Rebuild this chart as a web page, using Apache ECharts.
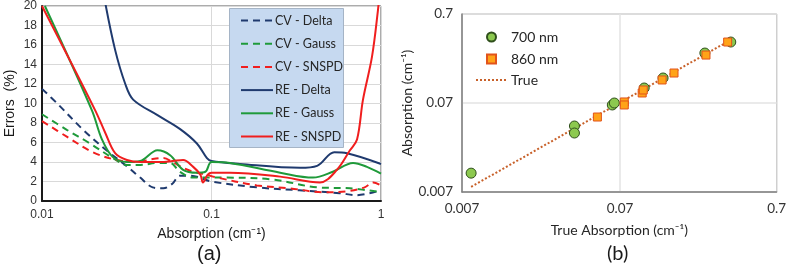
<!DOCTYPE html>
<html>
<head>
<meta charset="utf-8">
<script src="https://cdn.jsdelivr.net/npm/echarts@6/dist/echarts.min.js"></script>
<style>
  html, body { margin: 0; padding: 0; background: #fff; }
  #chart { width: 789px; height: 272px; }
</style>
</head>
<body>
<div id="chart"></div>
<script>
  // (a) error curves, [absorption, error %]
  var cvDelta = [[0.01, 11.5], [0.0123, 10], [0.0175, 7.3], [0.024, 5.2], [0.032, 3.5], [0.038, 2.4],
    [0.045, 1.4], [0.052, 1.3], [0.059, 1.8], [0.065, 2.6], [0.075, 2.6], [0.1, 2.0], [0.185, 1.4],
    [0.33, 1.1], [0.57, 0.8], [0.72, 0.6], [1, 1.1]];
  var cvGauss = [[0.01, 8.9], [0.014, 7.3], [0.0192, 5.9], [0.0262, 4.4], [0.0317, 3.7], [0.038, 3.7],
    [0.048, 3.9], [0.057, 3.9], [0.065, 3.0], [0.078, 2.4], [0.094, 2.4], [0.117, 2.4], [0.231, 2.2],
    [0.42, 1.4], [0.656, 1.3], [1, 0.9]];
  var cvSnspd = [[0.01, 8.2], [0.014, 6.6], [0.02, 5.0], [0.0277, 4.2], [0.036, 4.0], [0.045, 4.3],
    [0.052, 4.4], [0.059, 4.0], [0.068, 3.4], [0.078, 3.0], [0.094, 2.7], [0.102, 2.5], [0.185, 1.6],
    [0.29, 1.3], [0.455, 0.9], [0.63, 1.0], [0.8, 1.4], [0.9, 1.9], [1, 1.6]];
  var reDelta = [[0.0235, 20.5], [0.027, 15.5], [0.031, 12], [0.0345, 10.4], [0.048, 8.8], [0.065, 7.4],
    [0.082, 5.9], [0.094, 4.4], [0.1, 4.1], [0.147, 3.8], [0.333, 3.4], [0.42, 3.6], [0.53, 5.0],
    [0.63, 4.9], [1, 3.8]];
  var reGauss = [[0.0104, 20], [0.0197, 9.3], [0.0226, 6.3], [0.0262, 4.5], [0.0317, 4.0],
    [0.038, 4.1], [0.048, 5.2], [0.057, 4.7], [0.068, 3.2], [0.082, 2.9], [0.092, 3.0], [0.1, 4.0],
    [0.1285, 3.9], [0.254, 2.9], [0.397, 2.4], [0.52, 3.0], [0.684, 3.9], [0.826, 3.5], [1, 2.8]];
  var reSnspd = [[0.01, 20], [0.0206, 9.3], [0.0236, 7.0], [0.027, 4.9], [0.0317, 4.2],
    [0.038, 4.0], [0.05, 4.0], [0.059, 4.1], [0.068, 4.2], [0.078, 3.5], [0.086, 2.7], [0.089, 1.9],
    [0.095, 2.7], [0.1, 2.9], [0.1285, 2.9], [0.254, 2.5], [0.436, 1.9], [0.55, 3.2], [0.656, 5.2],
    [0.722, 6.3], [0.783, 10.4], [0.885, 14.8], [0.96, 19.6], [0.975, 21]];

  // (b) retrieved vs true absorption, [true, retrieved]
  var nm700 = [[0.008, 0.0114], [0.0363, 0.0386], [0.0363, 0.0322], [0.0632, 0.0665], [0.0651, 0.07],
    [0.1008, 0.1032], [0.1329, 0.1337], [0.245, 0.255], [0.358, 0.339]];
  var nm860 = [[0.0508, 0.0487], [0.0753, 0.0719], [0.0753, 0.0665], [0.0979, 0.0907], [0.0994, 0.098],
    [0.131, 0.127], [0.156, 0.152], [0.249, 0.242], [0.342, 0.339]];
  var trueLine = [[0.008, 0.008], [0.363, 0.363]];

  var navy = '#1f3a6e', green = '#1f9a3a', red = '#f01e1e';
  var dash = [7, 5];

  function curve(name, data, color, dashed) {
    return {
      name: name, type: 'line', xAxisIndex: 0, yAxisIndex: 0,
      data: data, smooth: 0.35, showSymbol: false, symbol: 'none',
      lineStyle: { color: color, width: 2, type: dashed ? dash : 'solid' },
      itemStyle: { color: color }
    };
  }

  function logLabel(v) {
    return String(+(+v).toPrecision(1));
  }

  var chart = echarts.init(document.getElementById('chart'));
  var option = {
    animation: false,
    backgroundColor: '#fff',
    grid: [
      { left: 42, top: 6, width: 339, height: 195, show: true, borderColor: '#595959', borderWidth: 1 },
      { left: 462, top: 14, width: 316, height: 178, show: true, borderColor: '#8c8c8c', borderWidth: 1 }
    ],
    legend: [
      {
        data: ['CV - Delta', 'CV - Gauss', 'CV - SNSPD', 'RE - Delta', 'RE - Gauss', 'RE - SNSPD'],
        orient: 'vertical', left: 240, top: 14, padding: 0, itemGap: 10.2, itemWidth: 32, itemHeight: 14,
        itemStyle: { opacity: 0 },
        textStyle: { fontFamily: 'Lato', fontSize: 12.5, color: '#262626', padding: [0, 0, 0, -3] }
      },
      {
        data: ['700 nm', '860 nm'],
        orient: 'vertical', left: 486, top: 30, padding: 0, itemGap: 8, itemWidth: 9, itemHeight: 9,
        textStyle: { fontFamily: 'Lato', fontSize: 14, color: '#262626', padding: [0, 0, 0, 10] }
      },
      {
        data: ['True'],
        orient: 'vertical', left: 475, top: 73, padding: 0, itemWidth: 32, itemHeight: 14,
        itemStyle: { opacity: 0 },
        textStyle: { fontFamily: 'Lato', fontSize: 14, color: '#262626', padding: [0, 0, 0, -2] }
      }
    ],
    xAxis: [
      {
        type: 'log', gridIndex: 0, min: 0.01, max: 1, logBase: 10,
        name: 'Absorption (cm⁻¹)', nameLocation: 'middle', nameGap: 26,
        nameTextStyle: { fontFamily: 'Liberation Sans', fontSize: 14, color: '#1a1a1a' },
        axisLine: { lineStyle: { color: '#1a1a1a', width: 2 } },
        axisTick: { show: false },
        axisLabel: { fontFamily: 'Liberation Sans', fontSize: 12, color: '#333', margin: 8 },
        splitLine: { show: true, lineStyle: { color: '#d9d9d9', width: 1 } }
      },
      {
        type: 'log', gridIndex: 1, min: 0.007, max: 0.7, logBase: 10, interval: 1,
        name: 'True Absorption (cm⁻¹)', nameLocation: 'middle', nameGap: 31,
        nameTextStyle: { fontFamily: 'Lato', fontSize: 14, color: '#262626' },
        axisLine: { lineStyle: { color: '#7f7f7f', width: 1.5 } },
        axisTick: { show: false },
        axisLabel: { fontFamily: 'Lato', fontSize: 13.5, color: '#333', margin: 10, formatter: logLabel },
        splitLine: { show: true, lineStyle: { color: '#e3e3e3', width: 1.5 } }
      }
    ],
    yAxis: [
      {
        type: 'value', gridIndex: 0, min: 0, max: 20, interval: 2,
        name: 'Errors  (%)', nameLocation: 'middle', nameGap: 25,
        nameTextStyle: { fontFamily: 'Liberation Sans', fontSize: 14, color: '#1a1a1a' },
        axisLine: { show: true, lineStyle: { color: '#1a1a1a', width: 2 } },
        axisTick: { show: false },
        axisLabel: { fontFamily: 'Liberation Sans', fontSize: 12, color: '#333', margin: 5 },
        splitLine: { show: true, lineStyle: { color: '#d9d9d9', width: 1 } }
      },
      {
        type: 'log', gridIndex: 1, min: 0.007, max: 0.7, logBase: 10, interval: 1,
        name: 'Absorption (cm⁻¹)', nameLocation: 'middle', nameGap: 38,
        nameTextStyle: { fontFamily: 'Lato', fontSize: 14, color: '#262626' },
        axisLine: { show: true, lineStyle: { color: '#7f7f7f', width: 1.5 } },
        axisTick: { show: false },
        axisLabel: { fontFamily: 'Lato', fontSize: 13.5, color: '#333', margin: 9, formatter: logLabel },
        splitLine: { show: true, lineStyle: { color: '#e3e3e3', width: 1.5 } }
      }
    ],
    graphic: [
      {
        type: 'rect', z: 3, shape: { x: 229.5, y: 8.5, width: 114, height: 139 },
        style: { fill: '#c6d9f0', stroke: '#a5b4c6', lineWidth: 1 }
      },
      { type: 'text', left: 197, top: 244, style: { text: '(a)', font: '20px "Liberation Sans"', fill: '#1a1a1a' } },
      { type: 'text', left: 607, top: 244, style: { text: '(b)', font: '20px Lato', fill: '#1a1a1a' } }
    ],
    series: [
      curve('CV - Delta', cvDelta, navy, true),
      curve('CV - Gauss', cvGauss, green, true),
      curve('CV - SNSPD', cvSnspd, red, true),
      curve('RE - Delta', reDelta, navy, false),
      curve('RE - Gauss', reGauss, green, false),
      curve('RE - SNSPD', reSnspd, red, false),
      {
        name: 'True', type: 'line', xAxisIndex: 1, yAxisIndex: 1, data: trueLine,
        showSymbol: false, symbol: 'none', z: 1,
        lineStyle: { color: '#c8612a', width: 2, type: [2, 2] }, itemStyle: { color: '#c8612a' }
      },
      {
        name: '700 nm', type: 'scatter', xAxisIndex: 1, yAxisIndex: 1, data: nm700,
        symbol: 'circle', symbolSize: 10, z: 3,
        itemStyle: { color: '#8cc94f', borderColor: '#2f4f1c', borderWidth: 1, opacity: 1 }
      },
      {
        name: '860 nm', type: 'scatter', xAxisIndex: 1, yAxisIndex: 1, data: nm860,
        symbol: 'rect', symbolSize: 8, z: 4,
        itemStyle: { color: '#ffa318', borderColor: '#e2531b', borderWidth: 1, opacity: 1 }
      }
    ]
  };
  chart.setOption(option);
</script>
</body>
</html>
